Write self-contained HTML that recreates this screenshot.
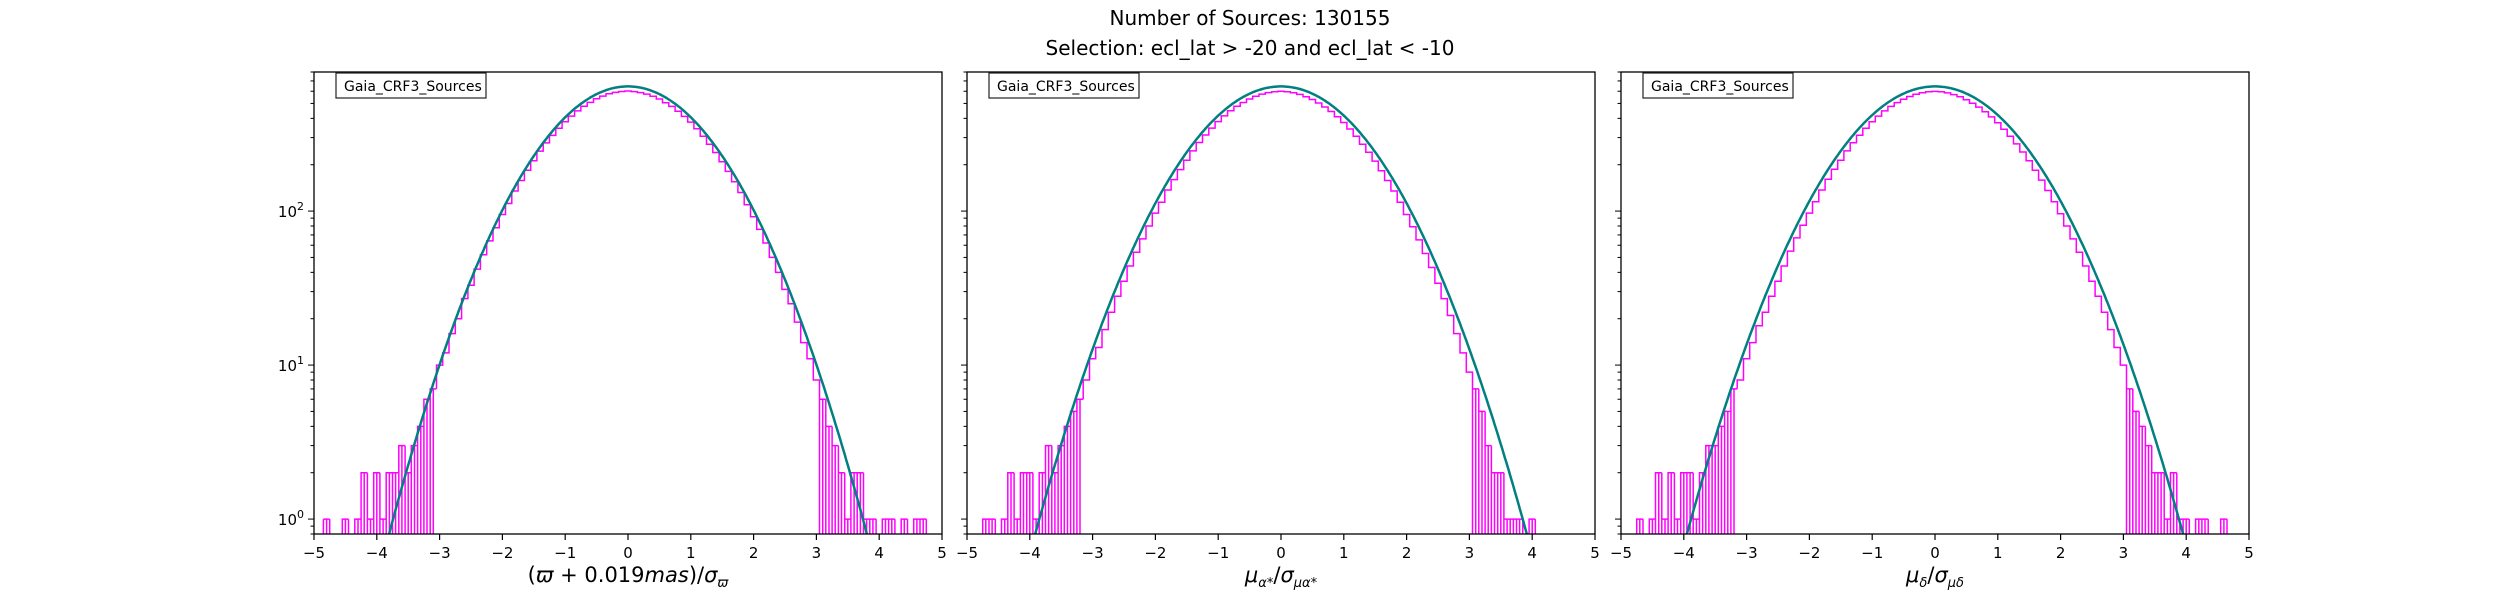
<!DOCTYPE html>
<html><head><meta charset="utf-8"><style>
body{margin:0;background:#fff;}
svg{display:block;font-family:"DejaVu Sans","Liberation Sans",sans-serif;}
</style></head><body>
<svg id="fig" width="2500" height="600" viewBox="0 0 2500 600">
<text x="1250" y="25" text-anchor="middle" font-size="20">Number of Sources: 130155</text>
<text x="1250" y="55" text-anchor="middle" font-size="20">Selection: ecl_lat &gt; -20 and ecl_lat &lt; -10</text>
</svg>
<script>
// ---- data ----
const binCenters = []; // -4.8 .. 4.8 step 0.1 (index-based, 97 bins)
for (let i = 0; i < 97; i++) binCenters.push(Math.round((-4.8 + i * 0.1) * 10) / 10);
const xTicks = [-5,-4,-3,-2,-1,0,1,2,3,4,5];
const yMajor = [1,10,100];
const yMajorLabels = ["0","1","2"];
const panelLegend = ["Gaia_CRF3_Sources","Gaia_CRF3_Sources","Gaia_CRF3_Sources"];
const fitAmp = [645, 645, 645];
const fitSigma = [1.04, 1.07, 1.08];
const counts1 = [1,0,0,1,0,1,2,1,2,1,2,2,3,2,
 3,4,6,7,10,12,16,20,27,33,42,52,64,78,95,112,135,158,184,212,245,277,310,345,380,414,447,480,508,536,558,578,590,598,
 602,
 597,588,575,556,534,505,478,445,412,378,342,306,272,240,209,181,155,132,110,92,76,62,50,40,31,25,19,14,11,8,6,4,3,
 2,1,2,2,1,1,0,1,1,0,1,0,1,1];
const counts2 = [0,1,1,0,1,2,1,2,2,1,2,3,2,3,
 4,5,6,8,11,13,17,22,28,35,44,54,66,80,97,114,137,160,186,214,246,279,312,346,381,415,448,479,507,534,556,575,588,596,
 600,
 596,586,572,553,530,503,474,443,410,376,341,306,272,241,211,183,158,135,114,95,79,65,53,43,34,27,21,16,12,9,7,5,3,
 2,2,1,1,1,0,1,0,0,0,0,0,0,0];
const counts3 = [0,1,0,1,2,1,2,1,2,2,1,2,3,3,
 4,5,7,8,11,14,18,22,28,35,44,55,67,81,97,115,137,161,187,214,246,278,311,345,380,414,447,478,506,533,555,574,587,595,
 599,
 595,585,571,552,529,502,473,442,409,375,340,306,273,242,212,184,159,136,115,96,80,66,54,44,35,28,22,17,13,10,7,5,4,
 3,2,2,1,2,1,1,0,1,1,0,0,1,0];
const allCounts = [counts1, counts2, counts3];
const xLabels = [
 [["(",""],["ϖ","i"],[" + 0.019",""],["mas","i"],[")/",""],["σ","i"],["ϖ","sub"]],
 [["μ","i"],["α*","sub"],["/",""],["σ","i"],["μα*","sub"]],
 [["μ","i"],["δ","sub"],["/",""],["σ","i"],["μδ","sub"]]
];
// ---- layout ----
const panelsL = [314, 967, 1621];
const W = 628, TOP = 72, BOT = 534, H = BOT - TOP;
const YMIN = 0.8, YMAX = 800;
const NS = "http://www.w3.org/2000/svg";
const svg = document.getElementById('fig');
function mk(tag, attrs, parent) { const e = document.createElementNS(NS, tag); for (const k in attrs) e.setAttribute(k, attrs[k]); (parent || svg).appendChild(e); return e; }
function xs(L, v) { return L + (v + 5) / 10 * W; }
function ys(c) { return BOT - (Math.log10(c) - Math.log10(YMIN)) / (Math.log10(YMAX) - Math.log10(YMIN)) * H; }

panelsL.forEach((L, p) => {
  const g = mk('g', {});
  
  
  const clipId = 'clip' + p;
  const cp = mk('clipPath', {id: clipId}, g);
  mk('rect', {x: L, y: TOP, width: W, height: H}, cp);
  // histogram
  const counts = allCounts[p];
  let d = '';
  const half = 0.05;
  for (let i = 0; i < binCenters.length; i++) {
    const c = counts[i];
    const x0 = xs(L, binCenters[i] - half), x1 = xs(L, binCenters[i] + half);
    const xm = xs(L, binCenters[i]);
    const yy = c > 0 ? ys(c) : BOT + 5;
    d += (i === 0 ? 'M' : 'L') + x0.toFixed(1) + ',' + yy.toFixed(1) + 'L' + x1.toFixed(1) + ',' + yy.toFixed(1);
    if (c > 0 && c < 8) {
      d += 'M' + x0.toFixed(1) + ',' + (BOT + 5) + 'L' + x0.toFixed(1) + ',' + yy.toFixed(1);
      d += 'M' + xm.toFixed(1) + ',' + (BOT + 5) + 'L' + xm.toFixed(1) + ',' + yy.toFixed(1);
      d += 'M' + x1.toFixed(1) + ',' + yy.toFixed(1);
    }
  }
  const hist = mk('path', {d: d, fill: 'none', stroke: '#ff00ff', 'stroke-width': 1.5, 'clip-path': 'url(#' + clipId + ')'}, g);
  
  
  // fit curve
  let fd = '';
  for (let k = 0; k <= 400; k++) {
    const v = -5 + k * 0.025;
    const c = fitAmp[p] * Math.exp(-v * v / (2 * fitSigma[p] * fitSigma[p]));
    const yy = Math.min(ys(Math.max(c, 1e-3)), BOT + 50);
    fd += (k ? 'L' : 'M') + xs(L, v).toFixed(1) + ',' + yy.toFixed(1);
  }
  const fit = mk('path', {d: fd, fill: 'none', stroke: '#008080', 'stroke-width': 2.5, 'clip-path': 'url(#' + clipId + ')'}, g);
  
  
  // frame
  const fr = mk('rect', {x: L, y: TOP, width: W, height: H, fill: 'none', stroke: '#000', 'stroke-width': 1.3}, g);
  
  
  // x ticks
  xTicks.forEach(t => {
    const x = xs(L, t);
    mk('line', {x1: x, x2: x, y1: BOT, y2: BOT + 6, stroke: '#000', 'stroke-width': 1.2}, g);
    const tx = mk('text', {x: x, y: BOT + 24, 'text-anchor': 'middle', 'font-size': 15}, g);
    tx.textContent = t < 0 ? '\u2212' + (-t) : String(t);
    
    
  });
  // y ticks
  for (let e = -1; e <= 2; e++) {
    for (let m = 1; m <= 9; m++) {
      const v = m * Math.pow(10, e);
      if (v < YMIN || v > YMAX) continue;
      const y = ys(v);
      mk('line', {x1: L, x2: L - (m === 1 ? 6 : 3.5), y1: y, y2: y, stroke: '#000', 'stroke-width': 1}, g);
    }
  }
  if (p === 0) {
    yMajor.forEach((v, i) => {
      const y = ys(v);
      const tx = mk('text', {x: L - 10, y: y + 6, 'text-anchor': 'end', 'font-size': 15}, g);
      
      
      const a = mk('tspan', {}, tx); a.textContent = '10';
      const b = mk('tspan', {dy: -7, 'font-size': 11}, tx); b.textContent = yMajorLabels[i];
    });
  }
  // legend
  const lg = mk('g', {}, g);
  
  
  mk('rect', {x: L + 22, y: TOP + 1, width: 150, height: 25, fill: '#fff', stroke: '#222', 'stroke-width': 1.2}, lg);
  const lt = mk('text', {x: L + 30, y: TOP + 19, 'font-size': 14}, lg);
  lt.textContent = panelLegend[p];
  // x label
  const xl = mk('text', {x: L + W / 2, y: 582, 'text-anchor': 'middle', 'font-size': 21}, g);
  
  
  xLabels[p].forEach(([s, st]) => {
    let attrs = {};
    if (st === 'i') attrs = {'font-style': 'italic', dy: 0};
    if (st === 'sub') attrs = {'font-style': 'italic', 'font-size': 13, dy: 5};
    const ts = mk('tspan', attrs, xl);
    ts.textContent = s;
    if (st === 'sub') { const r = mk('tspan', {dy: -5, 'font-size': 21}, xl); r.textContent = '\u200b'; }
  });
});
</script>
</body></html>
